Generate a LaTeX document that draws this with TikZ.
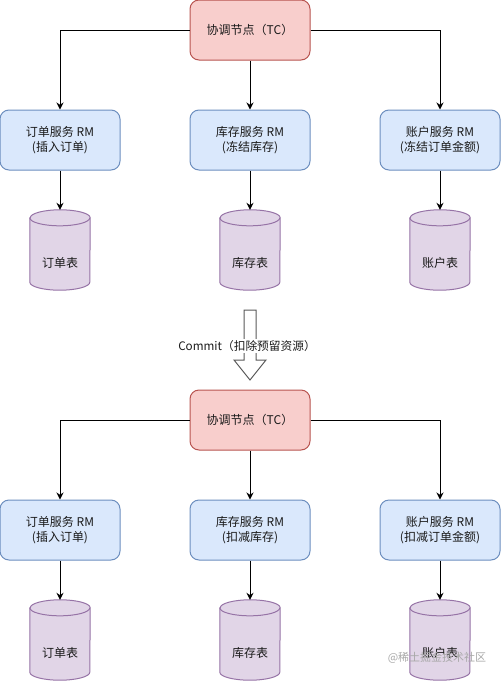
\documentclass[tikz,border=0pt]{standalone}
\usepackage{fontspec}
\setmainfont{Noto Sans CJK SC}
\usetikzlibrary{arrows.meta,backgrounds}
\definecolor{tcfill}{HTML}{F8CECC}
\definecolor{tcdraw}{HTML}{B85450}
\definecolor{rmfill}{HTML}{DAE8FC}
\definecolor{rmdraw}{HTML}{6C8EBF}
\definecolor{dbfill}{HTML}{E1D5E7}
\definecolor{dbdraw}{HTML}{9673A6}
\definecolor{txt}{HTML}{1A1A1A}
\definecolor{bigarrow}{HTML}{595959}
\definecolor{wm}{HTML}{A8A8A8}
\newcommand\drawcyl[1]{%
  \draw[draw=dbdraw, fill=dbfill, line width=1pt]
    ([yshift=-8pt]#1.north west) -- ([yshift=8pt]#1.south west)
    arc[start angle=180, end angle=360, x radius=30pt, y radius=8pt]
    -- ([yshift=-8pt]#1.north east)
    arc[start angle=0, end angle=180, x radius=30pt, y radius=8pt] -- cycle;
  \draw[draw=dbdraw, line width=1pt] ([yshift=-8pt]#1.north west)
    arc[start angle=180, end angle=360, x radius=30pt, y radius=8pt];}
\begin{document}
\begin{tikzpicture}[x=1pt, y=-1pt,
  every node/.style={text=txt, font=\fontsize{12}{15}\selectfont},
  tcbox/.style={draw=tcdraw, fill=tcfill, rounded corners=9pt, line width=1pt,
    minimum width=120pt, minimum height=60pt, inner sep=0pt},
  rmbox/.style={draw=rmdraw, fill=rmfill, rounded corners=9pt, line width=1pt,
    minimum width=120pt, minimum height=60pt, inner sep=0pt, align=center},
  dbnode/.style={minimum width=60pt, minimum height=80pt, inner sep=0pt},
  dblabel/.style={label={[yshift=-13pt, text=txt, font=\fontsize{12}{15}\selectfont]center:#1}},
  conn/.style={-{Stealth[length=7pt, width=7pt]}, line width=1pt}]
\useasboundingbox (0,0) rectangle (501,681);

% ---------- upper half ----------
\node[tcbox] (tcA) at (250,30) {协调节点（TC）};
\node[rmbox] (rmA1) at (60,140) {订单服务 RM\\(插入订单)};
\node[rmbox] (rmA2) at (250,140) {库存服务 RM\\(冻结库存)};
\node[rmbox] (rmA3) at (440,140) {账户服务 RM\\(冻结订单金额)};
\node[dbnode, dblabel=订单表] (dbA1) at (60,250) {};
\node[dbnode, dblabel=库存表] (dbA2) at (250,250) {};
\node[dbnode, dblabel=账户表] (dbA3) at (440,250) {};

% ---------- lower half ----------
\node[tcbox] (tcB) at (250,420) {协调节点（TC）};
\node[rmbox] (rmB1) at (60,530) {订单服务 RM\\(插入订单)};
\node[rmbox] (rmB2) at (250,530) {库存服务 RM\\(扣减库存)};
\node[rmbox] (rmB3) at (440,530) {账户服务 RM\\(扣减订单金额)};
\node[dbnode, dblabel=订单表] (dbB1) at (60,640) {};
\node[dbnode, dblabel=库存表] (dbB2) at (250,640) {};
\node[dbnode, dblabel=账户表] (dbB3) at (440,640) {};

\begin{scope}[on background layer]
  \drawcyl{dbA1}\drawcyl{dbA2}\drawcyl{dbA3}
  \drawcyl{dbB1}\drawcyl{dbB2}\drawcyl{dbB3}
\end{scope}

% connectors
\draw[conn] (tcA.west) -| (rmA1.north);
\draw[conn] (tcA.south) -- (rmA2.north);
\draw[conn] (tcA.east) -| (rmA3.north);
\draw[conn] (rmA1.south) -- (dbA1.north);
\draw[conn] (rmA2.south) -- (dbA2.north);
\draw[conn] (rmA3.south) -- (dbA3.north);

\draw[conn] (tcB.west) -| (rmB1.north);
\draw[conn] (tcB.south) -- (rmB2.north);
\draw[conn] (tcB.east) -| (rmB3.north);
\draw[conn] (rmB1.south) -- (dbB1.north);
\draw[conn] (rmB2.south) -- (dbB2.north);
\draw[conn] (rmB3.south) -- (dbB3.north);

% hollow commit arrow
\draw[draw=bigarrow, fill=white, line width=1pt, line join=miter]
  (244,310) -- (256,310) -- (256,360) -- (266,360) -- (250,380)
  -- (234,360) -- (244,360) -- cycle;
\node[fill=white, inner sep=1pt, font=\fontsize{11.7}{14}\selectfont] (commit) at (247,346) {Commit（扣除预留资源）};

% watermark
\node[text=wm, font=\fontsize{11}{13}\selectfont, inner sep=0pt] (wmark) at (437,658) {@稀土掘金技术社区};
\end{tikzpicture}
\end{document}
